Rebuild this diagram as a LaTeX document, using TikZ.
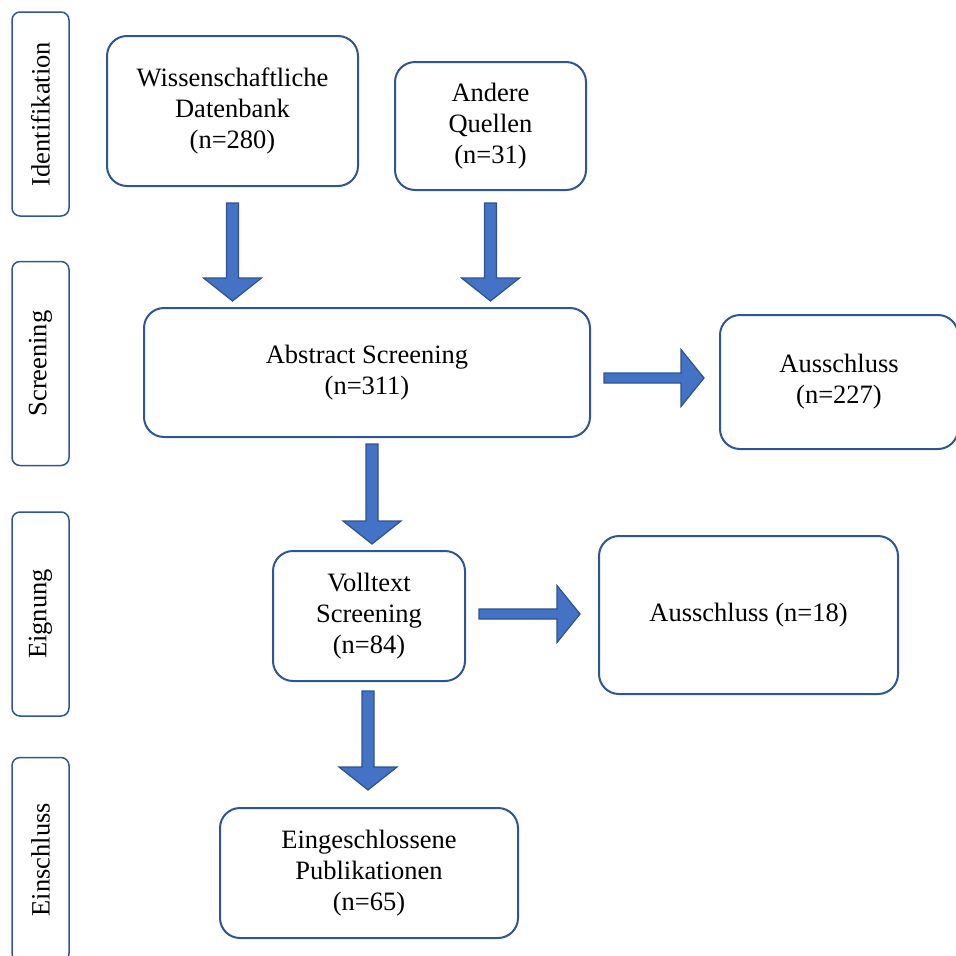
\documentclass[tikz,border=0pt]{standalone}
\usepackage{fontspec}
\setmainfont{Liberation Serif}
\usepackage{tikz}
\usetikzlibrary{calc}
\definecolor{boxblue}{HTML}{2F5597}
\definecolor{arrowblue}{HTML}{4472C4}
\definecolor{arrowedge}{HTML}{2F528F}
\tikzset{
  stage/.style={rounded corners=20pt, draw=boxblue, line width=2pt, fill=white,
                align=center, inner sep=4pt, font=\fontsize{26.5}{31}\selectfont},
  phase/.style={rounded corners=8pt, draw=boxblue, line width=1.5pt,
                minimum width=204, minimum height=57, inner sep=0pt,
                rotate=90, font=\fontsize{26.5}{31}\selectfont},
  fat/.style={draw=arrowedge, fill=arrowblue, line width=1.2pt, line join=miter},
}
% block arrows: #1 start of shaft, #2 tip
\newcommand{\fatdown}[2]{%
  \path[fat] let \p1=#1, \p2=#2 in
    (\x1-6pt,\y1) -- (\x1-6pt,\y2+23pt) -- (\x1-29pt,\y2+23pt) -- (\x1,\y2)
    -- (\x1+29pt,\y2+23pt) -- (\x1+6pt,\y2+23pt) -- (\x1+6pt,\y1) -- cycle;}
\newcommand{\fatright}[2]{%
  \path[fat] let \p1=#1, \p2=#2 in
    (\x1,\y1+5pt) -- (\x2-23pt,\y1+5pt) -- (\x2-23pt,\y1+28.5pt) -- (\x2,\y1)
    -- (\x2-23pt,\y1-28.5pt) -- (\x2-23pt,\y1-5pt) -- (\x1,\y1-5pt) -- cycle;}

\begin{document}
\begin{tikzpicture}[x=1pt, y=-1pt]
\clip (0,0) rectangle (956,956);

% ---------------- phases ---------------------------------------------------
\node[phase] at (40.5,114) (identifikation) {Identifikation};
\node[phase] at (40.5,363.5) (screening) {Screening};
\node[phase] at (40.5,614) (eignung) {Eignung};
\node[phase] at (40.5,859.5) (einschluss) {Einschluss};

% ---------------- identification -------------------------------------------
\node[stage, minimum width=251, minimum height=150] at (232.5,111) (wiss)
   {Wissenschaftliche\\Datenbank\\(n=280)};
\node[stage, minimum width=191, minimum height=128] at (490.5,126) (andere)
   {Andere\\Quellen\\(n=31)};

% ---------------- screening ------------------------------------------------
\node[stage, minimum width=446, minimum height=129] at (367,372.5) (abstract)
   {Abstract Screening\\(n=311)};
\node[stage, minimum width=238, minimum height=134] at (839,382) (aus1)
   {Ausschluss\\(n=227)};
\fatdown{($(wiss.south)+(0,16)$)}{($(abstract.north)+(0,-6)$)}
\fatdown{($(andere.south)+(0,12)$)}{($(abstract.north)+(0,-6)$)}
\fatright{($(abstract.east)+(13,5.5)$)}{($(aus1.west)+(-15,0)$)}

% ---------------- eligibility ----------------------------------------------
\node[stage, minimum width=192, minimum height=130] at (369,616) (volltext)
   {Volltext\\Screening\\(n=84)};
\node[stage, minimum width=299, minimum height=158] at (748.5,615) (aus2)
   {Ausschluss (n=18)};
\fatdown{($(abstract.south)+(5,6)$)}{($(volltext.north)+(0,-6)$)}
\fatright{($(volltext.east)+(13,-2)$)}{($(aus2.west)+(-18,0)$)}

% ---------------- inclusion ------------------------------------------------
\node[stage, minimum width=298, minimum height=130] at (369,873) (einge)
   {Eingeschlossene\\Publikationen\\(n=65)};
\fatdown{($(volltext.south)+(-1,9)$)}{($(einge.north)+(0,-17)$)}
\end{tikzpicture}
\end{document}
